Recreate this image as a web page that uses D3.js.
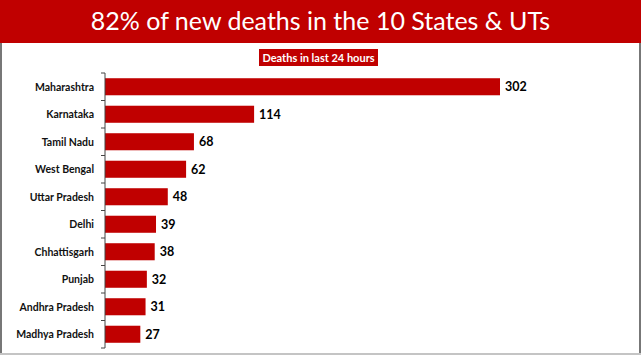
<!DOCTYPE html>
<html>
<head>
   <meta charset="utf-8">
   <title>Deaths in last 24 hours</title>
   <script src="https://d3js.org/d3.v7.min.js"></script>
   <style>
   body { margin: 0; background: white; }
   svg { display: block; }
   </style>
</head>
<body>
  <div id="chart"></div>
  <script>
   var states = ["Maharashtra", "Karnataka", "Tamil Nadu", "West Bengal", "Uttar Pradesh",
                 "Delhi", "Chhattisgarh", "Punjab", "Andhra Pradesh", "Madhya Pradesh"];
   var deaths = [302, 114, 68, 62, 48, 39, 38, 32, 31, 27];

   var width = 641, height = 360;
   var red = "#c00000";
   var svg = d3.select("#chart").append("svg")
      .attr("width", width)
      .attr("height", height);

   // frame: left/right dark lines, bottom light line
   svg.append("rect").attr("x", 0).attr("y", 43).attr("width", 2).attr("height", 311).attr("fill", "#777");
   svg.append("rect").attr("x", 639).attr("y", 43).attr("width", 2).attr("height", 311).attr("fill", "#777");
   svg.append("rect").attr("x", 0).attr("y", 353).attr("width", width).attr("height", 2).attr("fill", "#c4c4c4");

   // header band
   svg.append("rect").attr("x", 0).attr("y", 0).attr("width", width).attr("height", 43).attr("fill", red);
   svg.append("text")
      .attr("x", width / 2).attr("y", 30)
      .attr("text-anchor", "middle")
      .attr("fill", "white")
      .style("font-family", "Lato, 'Open Sans', sans-serif")
      .style("font-size", "25px")
      .text("82% of new deaths in the 10 States & UTs");

   // subtitle box
   svg.append("rect").attr("x", 259).attr("y", 49).attr("width", 119).attr("height", 17).attr("fill", red);
   svg.append("text")
      .attr("x", 318.5).attr("y", 61.5)
      .attr("text-anchor", "middle")
      .attr("fill", "white")
      .style("font-family", "Lato, sans-serif")
      .style("font-weight", "bold")
      .style("font-size", "11px")
      .text("Deaths in last 24 hours");

   var x0 = 105;
   var x = d3.scaleLinear().domain([0, 302]).range([x0, 500]);
   var y = d3.scaleBand().domain(states).range([73, 348]).paddingInner(0.38).paddingOuter(0.19);

   var g = svg.append("g");
   g.selectAll("rect.bar")
      .data(states)
      .enter().append("rect")
      .attr("class", "bar")
      .attr("x", x(0))
      .attr("y", function(d) { return y(d); })
      .attr("width", function(d, i) { return x(deaths[i]) - x(0); })
      .attr("height", y.bandwidth())
      .attr("fill", red);

   g.selectAll("text.val")
      .data(states)
      .enter().append("text")
      .attr("class", "val")
      .attr("x", function(d, i) { return x(deaths[i]) + 5; })
      .attr("y", function(d) { return y(d) + y.bandwidth() / 2; })
      .attr("dy", "0.36em")
      .style("font-family", "Lato, sans-serif")
      .style("font-weight", "bold")
      .style("font-size", "12.5px")
      .attr("fill", "black")
      .text(function(d, i) { return deaths[i]; });

   // axis line with ticks at category boundaries
   var axis = svg.append("g");
   axis.append("line").attr("x1", x0).attr("x2", x0).attr("y1", 73).attr("y2", 348)
      .attr("stroke", "#444").attr("stroke-width", 1);
   axis.selectAll("line.tick")
      .data(d3.range(states.length + 1))
      .enter().append("line")
      .attr("class", "tick")
      .attr("x1", x0 - 4).attr("x2", x0)
      .attr("y1", function(i) { return 73 + i * y.step(); })
      .attr("y2", function(i) { return 73 + i * y.step(); })
      .attr("stroke", "#444");

   axis.selectAll("text.lab")
      .data(states)
      .enter().append("text")
      .attr("class", "lab")
      .attr("x", 94)
      .attr("y", function(d) { return y(d) + y.bandwidth() / 2; })
      .attr("dy", "0.36em")
      .attr("text-anchor", "end")
      .style("font-family", "Lato, sans-serif")
      .style("font-weight", "bold")
      .style("font-size", "10.5px")
      .attr("fill", "#111")
      .text(function(d) { return d; });
  </script>
</body>
</html>
